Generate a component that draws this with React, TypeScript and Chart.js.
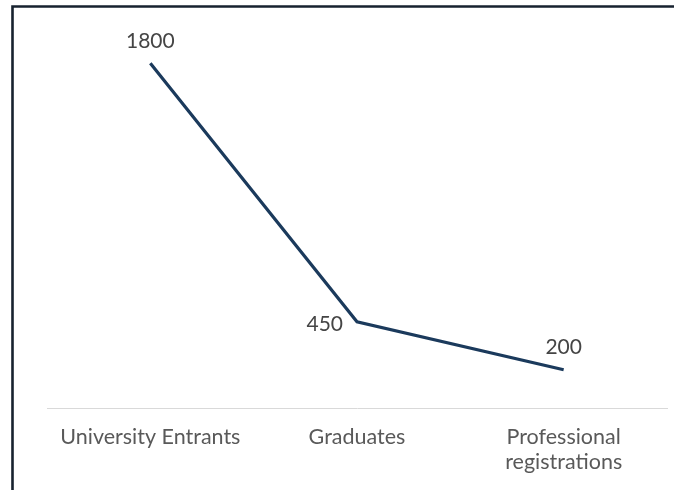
import React, { useEffect, useRef } from "react";
import { Chart, registerables } from "chart.js";

Chart.register(...registerables);

const categories: (string | string[])[] = [
  "University Entrants",
  "Graduates",
  ["Professional", "registrations"],
];
const values: number[] = [1800, 450, 200];
const labelSides: string[] = ["top", "left", "top"];

const FONT = "Lato, 'Open Sans', sans-serif";

const framePlugin = {
  id: "frame",
  afterDraw(chart: any) {
    const ctx = chart.ctx;
    ctx.save();
    ctx.strokeStyle = "#17222f";
    ctx.lineWidth = 2.6;
    ctx.beginPath();
    ctx.moveTo(12.5, 490);
    ctx.lineTo(12.5, 6.5);
    ctx.lineTo(674, 6.5);
    ctx.stroke();
    ctx.restore();
  },
};

const valueLabelPlugin = {
  id: "valueLabels",
  afterDatasetsDraw(chart: any) {
    const ctx = chart.ctx;
    const meta = chart.getDatasetMeta(0);
    ctx.save();
    ctx.font = `21px ${FONT}`;
    ctx.fillStyle = "#454545";
    ctx.textBaseline = "middle";
    meta.data.forEach((pt: any, i: number) => {
      const side = labelSides[i];
      const txt = String(values[i]);
      if (side === "left") {
        ctx.textAlign = "right";
        ctx.fillText(txt, pt.x - 14, pt.y + 2.5);
      } else {
        ctx.textAlign = "center";
        ctx.fillText(txt, pt.x, pt.y - 22);
      }
    });
    ctx.restore();
  },
};

export default function App() {
  const ref = useRef<HTMLCanvasElement>(null);
  useEffect(() => {
    if (!ref.current) return;
    const chart = new Chart(ref.current, {
      type: "line",
      data: {
        labels: categories,
        datasets: [
          {
            data: values,
            borderColor: "#1b3a5c",
            borderWidth: 3.2,
            pointRadius: 0,
            tension: 0,
            fill: false,
          },
        ],
      },
      options: {
        animation: false,
        responsive: false,
        layout: { padding: { left: 47, right: 7, top: 25, bottom: 0 } },
        plugins: { legend: { display: false }, tooltip: { enabled: false } },
        scales: {
          x: {
            offset: true,
            grid: { display: false, drawTicks: false },
            border: { display: true, color: "#d9d9d9", width: 1 },
            ticks: {
              color: "#595959",
              font: { family: FONT, size: 21.5, lineHeight: 1.16 },
              padding: 16.5,
              maxRotation: 0,
              autoSkip: false,
            },
            afterFit: (scale: any) => {
              scale.height = 82;
            },
          },
          y: {
            display: false,
            min: 0,
            max: 2000,
          },
        },
      },
      plugins: [framePlugin, valueLabelPlugin],
    });
    return () => chart.destroy();
  }, []);
  return (
    <div style={{ position: "fixed", left: 0, top: 0, width: 674, height: 490, background: "#fff" }}>
      <canvas ref={ref} width={674} height={490} style={{ display: "block" }} />
    </div>
  );
}
